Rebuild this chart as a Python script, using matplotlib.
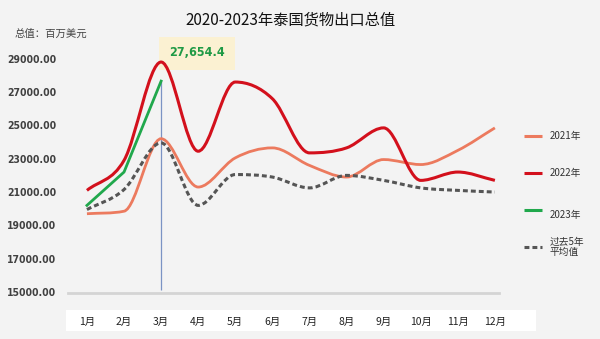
import matplotlib as mpl
from matplotlib import pyplot as plt, ticker as tkr
from matplotlib.path import Path
from matplotlib.patches import PathPatch, Rectangle
from matplotlib.lines import Line2D

mpl.use('Agg')

plt.rcParams['font.family'] = ['Noto Sans CJK SC', 'DejaVu Sans']

months = ['1月', '2月', '3月', '4月', '5月', '6月', '7月', '8月', '9月', '10月', '11月', '12月']
y_ticks = [15000, 17000, 19000, 21000, 23000, 25000, 27000, 29000]

exports_2021 = [19700, 19850, 24200, 21300, 23050, 23650, 22600, 21900, 22950, 22650, 23500, 24850]
exports_2022 = [21100, 22900, 28800, 23450, 27600, 26600, 23350, 23650, 24850, 21700, 22200, 21700]
exports_2023 = [20200, 22200, 27654.4]
avg_5yr = [19950, 21150, 23950, 20200, 22050, 21900, 21250, 22000, 21700, 21250, 21100, 21000]

title = '2020-2023年泰国货物出口总值'
unit_label = '总值：百万美元'
peak_label = '27,654.4'

colors = {'2021年': '#ec7a5e', '2022年': '#d3101c', '2023年': '#20a84c', '过去5年\n平均值': '#555555'}


def smooth_path(xs, ys):
    # monotone cubic (Fritsch-Carlson) segments written as Bezier path pieces
    n = len(xs)
    d = [(ys[i + 1] - ys[i]) / (xs[i + 1] - xs[i]) for i in range(n - 1)]
    m = [d[0]] + [0.0] * (n - 2) + [d[-1]]
    for i in range(1, n - 1):
        if d[i - 1] * d[i] <= 0:
            m[i] = 0.0
        else:
            s = (d[i - 1] + d[i]) / 2.0
            lim = 3 * min(abs(d[i - 1]), abs(d[i]))
            m[i] = max(-lim, min(lim, s))
    verts = [(xs[0], ys[0])]
    codes = [Path.MOVETO]
    for i in range(n - 1):
        h = xs[i + 1] - xs[i]
        verts += [(xs[i] + h / 3, ys[i] + m[i] * h / 3),
                  (xs[i + 1] - h / 3, ys[i + 1] - m[i + 1] * h / 3),
                  (xs[i + 1], ys[i + 1])]
        codes += [Path.CURVE4] * 3
    return Path(verts, codes)


fig = plt.figure(figsize=(6, 3.39), dpi=100)
fig.patch.set_facecolor('#f3f3f3')
ax = fig.add_axes([0.114, 0.136, 0.717, 0.740])
ax.patch.set_facecolor('#f3f3f3')

x = list(range(len(months)))

ax.vlines(2, 15100, exports_2023[2], color='#7b93c4', lw=0.9, zorder=1)

ax.add_patch(PathPatch(smooth_path(x, exports_2021), fill=False,
                       edgecolor=colors['2021年'], lw=2.0, zorder=2))
ax.add_patch(PathPatch(smooth_path(x, avg_5yr), fill=False,
                       edgecolor=colors['过去5年\n平均值'], lw=2.2,
                       linestyle=(0, (1.6, 1.0)), capstyle='butt', zorder=3))
ax.add_patch(PathPatch(smooth_path(x, exports_2022), fill=False,
                       edgecolor=colors['2022年'], lw=2.2, zorder=4))
ax.plot(x[:len(exports_2023)], exports_2023, color=colors['2023年'], lw=2.0, zorder=5)

ax.annotate(peak_label, xy=(2, exports_2023[2]), xytext=(197, 286),
            textcoords='figure pixels', ha='center', va='center',
            fontsize=9, fontweight='bold', color='#1f9a45', fontstretch='condensed',
            family='DejaVu Sans',
            bbox=dict(boxstyle='square,pad=0.8', fc='#fbf1d2', ec='none'))

ax.set_xlim(-0.5, 11.1)
ax.set_ylim(14950, 30000)
ax.set_yticks(y_ticks)
ax.yaxis.set_major_formatter(tkr.FuncFormatter(lambda v, _: '%.2f' % v))
ax.set_xticks(x)
ax.set_xticklabels(months)
ax.tick_params(axis='y', length=0, pad=9, labelsize=7.5, labelcolor='#404040')
ax.tick_params(axis='x', length=0, pad=17, labelsize=7.5, labelcolor='#222222')
for lbl in ax.get_yticklabels():
    lbl.set_fontweight('bold')
    lbl.set_family('DejaVu Sans')
    lbl.set_fontstretch('condensed')

for side in ['top', 'right', 'left']:
    ax.spines[side].set_visible(False)
ax.spines['bottom'].set_color('#d4d4d4')
ax.spines['bottom'].set_linewidth(2.0)

# white band behind month labels
fig.add_artist(Rectangle((66 / 600, 1 - 331 / 339), 470 / 600, 21 / 339,
                         transform=fig.transFigure, fc='white', ec='none', zorder=0))

fig.text(290 / 600, 1 - 20 / 339, title, ha='center', va='center', fontsize=11, color='#111111')
fig.text(15 / 600, 1 - 34 / 339, unit_label, ha='left', va='center', fontsize=7.5, color='#444444')

# legend on the right
legend_rows = [('2021年', 136, 136, None), ('2022年', 173, 173, None),
               ('2023年', 210, 215, None), ('过去5年\n平均值', 247, 247, (0, (1.6, 1.0)))]
for name, ly, ty, ls in legend_rows:
    fig.add_artist(Line2D([524 / 600, 542 / 600], [1 - ly / 339, 1 - ly / 339],
                          transform=fig.transFigure, color=colors[name], lw=2.2,
                          linestyle=ls if ls else '-', solid_capstyle='butt',
                          dash_capstyle='butt'))
    fig.text(550 / 600, 1 - ty / 339, name, ha='left', va='center', fontsize=7,
             color='#333333', linespacing=1.1)

plt.savefig('out.png', dpi=100, facecolor=fig.get_facecolor())
